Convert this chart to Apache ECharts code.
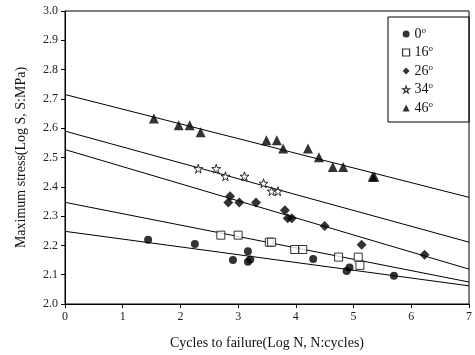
<!DOCTYPE html>
<html>
<head>
<meta charset="utf-8">
<script src="https://cdn.jsdelivr.net/npm/echarts@6/dist/echarts.min.js"></script>
<style>html,body{margin:0;padding:0;background:#fff}#c{width:475px;height:355px}</style>
</head>
<body>
<div id="c"></div>
<script>
const seriesNames = ['0', '16', '26', '34', '46'];
const xTicks = [0, 1, 2, 3, 4, 5, 6, 7];
const yTicks = [2.0, 2.1, 2.2, 2.3, 2.4, 2.5, 2.6, 2.7, 2.8, 2.9, 3.0];

const deg0 = [[1.44,2.219],[2.25,2.205],[2.91,2.150],[3.17,2.180],[3.17,2.144],[3.21,2.152],[4.30,2.154],[4.88,2.113],[4.93,2.125],[5.70,2.096]];
const deg16 = [[2.70,2.235],[3.00,2.235],[3.54,2.211],[3.58,2.211],[3.98,2.186],[4.12,2.186],[4.74,2.160],[5.08,2.160],[5.11,2.132]];
const deg26 = [[2.86,2.368],[2.83,2.346],[3.02,2.346],[3.31,2.346],[3.81,2.320],[3.86,2.293],[3.93,2.293],[4.50,2.266],[5.14,2.202],[6.23,2.168]];
const deg34 = [[2.31,2.462],[2.62,2.462],[2.78,2.436],[3.11,2.436],[3.44,2.412],[3.58,2.385],[3.69,2.385]];
const deg46 = [[1.54,2.633],[1.97,2.610],[2.16,2.610],[2.35,2.586],[3.49,2.559],[3.67,2.559],[3.78,2.531],[4.21,2.531],[4.40,2.501],[4.64,2.468],[4.82,2.468],[5.33,2.434],[5.36,2.434]];

// fitted lines: value at x=0 and x=7
const fitX = [0, 7];
const fitStart = [2.248, 2.347, 2.527, 2.590, 2.715];
const fitEnd = [2.062, 2.075, 2.119, 2.211, 2.364];

const starPath = 'path://M50,0 L61,35 L98,35 L68,57 L79,91 L50,70 L21,91 L32,57 L2,35 L39,35 Z';
const serif = 'Liberation Serif';

const scatterData = [deg0, deg16, deg26, deg34, deg46];
const symbols = ['circle', 'rect', 'diamond', starPath, 'triangle'];
const sizes = [8, 8, 10, 9, 10];
const fills = ['#000', '#fff', '#000', '#fff', '#000'];

const series = [];
for (let i = 0; i < 5; i++) {
  series.push({
    type: 'line',
    data: [[fitX[0], fitStart[i]], [fitX[1], fitEnd[i]]],
    showSymbol: false,
    symbol: 'none',
    lineStyle: { color: '#000', width: 1 },
    silent: true,
    z: 1
  });
}
for (let i = 0; i < 5; i++) {
  series.push({
    name: seriesNames[i],
    type: 'scatter',
    data: scatterData[i],
    symbol: symbols[i],
    symbolSize: sizes[i],
    itemStyle: { color: fills[i], borderColor: '#000', borderWidth: fills[i] === '#fff' ? 1 : 0 },
    z: 3
  });
}

const legendData = seriesNames.map((n, i) => ({
  name: n,
  icon: symbols[i],
  itemStyle: { color: fills[i], borderColor: '#000', borderWidth: fills[i] === '#fff' ? 1.2 : 0 }
}));

const chart = echarts.init(document.getElementById('c'));
chart.setOption({
  animation: false,
  backgroundColor: '#fff',
  grid: { left: 65, right: 4, top: 11, bottom: 50, show: true, borderColor: '#000', borderWidth: 1, backgroundColor: 'transparent' },
  xAxis: {
    type: 'value', min: xTicks[0], max: xTicks[xTicks.length - 1], interval: 1,
    name: 'Cycles to failure(Log N, N:cycles)', nameLocation: 'middle', nameGap: 32,
    nameTextStyle: { fontFamily: serif, fontSize: 14, color: '#111' },
    axisLine: { lineStyle: { color: '#000', width: 1 } },
    axisTick: { show: true, length: 4, lineStyle: { color: '#000' } },
    axisLabel: { fontFamily: serif, fontSize: 12, color: '#222', margin: 7 },
    splitLine: { show: false }
  },
  yAxis: {
    type: 'value', min: yTicks[0], max: yTicks[yTicks.length - 1], interval: 0.1,
    name: 'Maximum stress(Log S, S:MPa)', nameLocation: 'middle', nameGap: 37,
    nameTextStyle: { fontFamily: serif, fontSize: 14, color: '#111' },
    axisLine: { show: true, lineStyle: { color: '#000', width: 1 } },
    axisTick: { show: true, length: 4, lineStyle: { color: '#000' } },
    axisLabel: { fontFamily: serif, fontSize: 12, color: '#222', margin: 7, formatter: v => v.toFixed(1) },
    splitLine: { show: false }
  },
  legend: {
    data: legendData,
    orient: 'vertical',
    left: 388, top: 17,
    borderColor: '#000', borderWidth: 1,
    padding: [9, 36, 6, 14],
    itemWidth: 7, itemHeight: 7, itemGap: 2.5, itemTextGap: 14,
    textStyle: {
      fontFamily: serif, fontSize: 14, color: '#111', lineHeight: 14.5,
      rich: { sup: { fontFamily: serif, fontSize: 9, color: '#111', padding: [0, 0, 7, 0], lineHeight: 14.5 } }
    },
    formatter: n => n + '{sup|o}'
  },
  series: series
});
</script>
</body>
</html>
